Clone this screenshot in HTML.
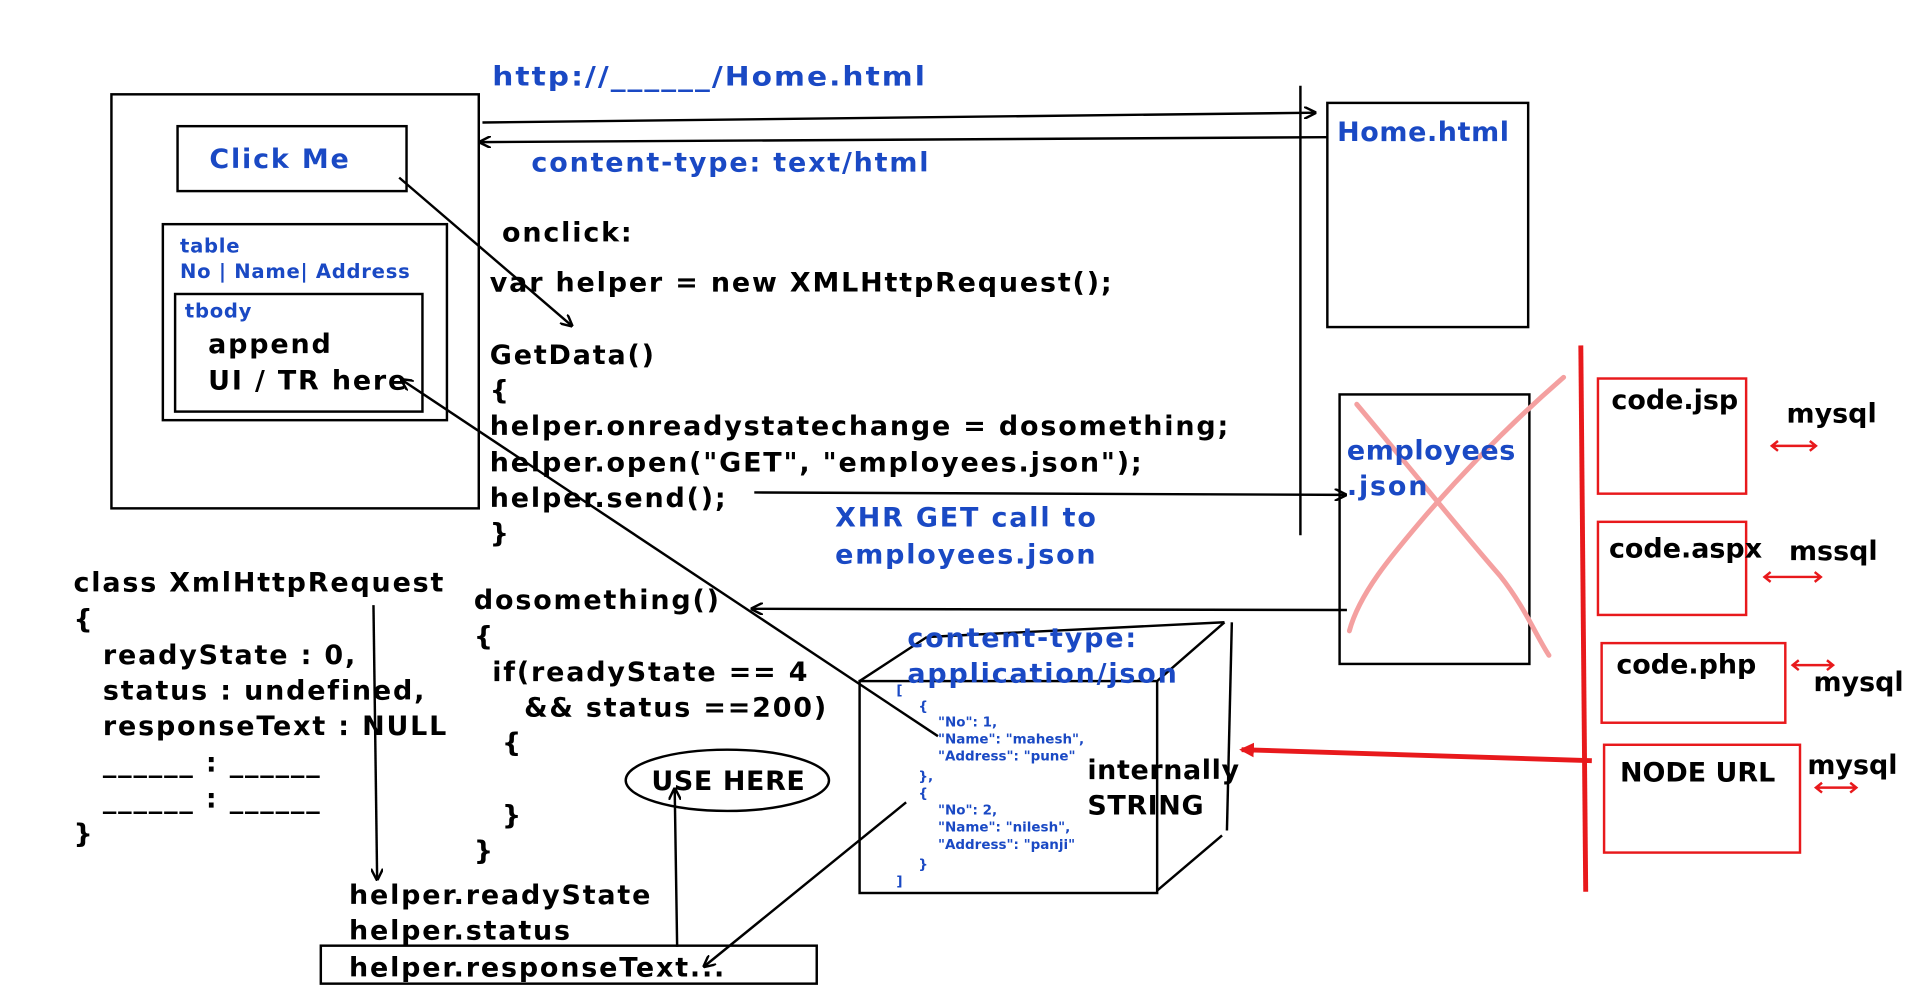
<!DOCTYPE html>
<html><head><meta charset="utf-8"><style>
html,body{margin:0;padding:0;background:#fff;width:1920px;height:991px;overflow:hidden}
svg{display:block}
text{font-family:"DejaVu Sans","Liberation Sans",sans-serif;font-weight:bold}
.b{fill:#1a49c4}
.k{fill:#000}
</style></head><body>
<svg width="1920" height="991" viewBox="0 0 1568 809" preserveAspectRatio="none" xmlns="http://www.w3.org/2000/svg">
<defs>
<marker id="a" markerWidth="10" markerHeight="10" refX="9" refY="5" orient="auto" markerUnits="userSpaceOnUse"><path d="M0,0 L10,5 L0,10" fill="none" stroke="#000" stroke-width="2"/></marker>
<marker id="r" markerWidth="12" markerHeight="12" refX="10" refY="6" orient="auto" markerUnits="userSpaceOnUse"><path d="M0,0 L12,6 L0,12 Z" fill="#e8191c"/></marker>
</defs>
<g fill="none" stroke="#000" stroke-width="2">
<rect x="91" y="77" width="300" height="338"/>
<rect x="145" y="103" width="187" height="53"/>
<rect x="133" y="183" width="232" height="160"/>
<rect x="143" y="240" width="202" height="96"/>
<rect x="1084" y="84" width="164" height="183"/>
<rect x="1094" y="322" width="155" height="220"/>
<line x1="1062" y1="70" x2="1062" y2="437"/>
<line x1="394" y1="100" x2="1074" y2="92" marker-end="url(#a)"/>
<line x1="1084" y1="112" x2="392" y2="116" marker-end="url(#a)"/>
<line x1="326" y1="145" x2="467" y2="266" marker-end="url(#a)"/>
<line x1="616" y1="402" x2="1099" y2="404" marker-end="url(#a)"/>
<line x1="1100" y1="498" x2="614" y2="497" marker-end="url(#a)"/>
<line x1="766" y1="601" x2="328" y2="310" marker-end="url(#a)"/>
<line x1="305" y1="494" x2="308" y2="718" marker-end="url(#a)"/>
<line x1="740" y1="655" x2="575" y2="789" marker-end="url(#a)"/>
<line x1="553" y1="773" x2="551" y2="644" marker-end="url(#a)"/>
<rect x="262" y="772" width="405" height="31"/>
<ellipse cx="594" cy="637" rx="83" ry="25"/>
<rect x="702" y="556" width="243" height="173"/>
<line x1="702" y1="556" x2="757" y2="520"/>
<line x1="945" y1="556" x2="1000" y2="508"/>
<line x1="757" y1="520" x2="1000" y2="508"/>
<line x1="1006" y1="508" x2="1002" y2="678"/>
<line x1="945" y1="727" x2="998" y2="682"/>
</g>
<path d="M1108 330 C1150 380 1190 430 1225 470 C1245 495 1255 520 1265 535 M1277 308 C1240 340 1200 380 1165 420 C1135 455 1110 485 1102 515" fill="none" stroke="#f4a0a0" stroke-width="4" stroke-linecap="round"/>
<g fill="none" stroke="#e8191c" stroke-width="2">
<rect x="1305" y="309" width="121" height="94"/>
<rect x="1305" y="426" width="121" height="76"/>
<rect x="1308" y="525" width="150" height="65"/>
<rect x="1310" y="608" width="160" height="88"/>
</g>
<path d="M1291 282 L1295 728" stroke="#e8191c" stroke-width="4" fill="none"/>
<line x1="1300" y1="621" x2="1014" y2="612" stroke="#e8191c" stroke-width="4" marker-end="url(#r)"/>
<g stroke="#e8191c" stroke-width="2" fill="none">
<path d="M1447 364 H1483 M1452 360 L1447 364 L1452 368 M1478 360 L1483 364 L1478 368"/>
<path d="M1441 471 H1487 M1446 467 L1441 471 L1446 475 M1482 467 L1487 471 L1482 475"/>
<path d="M1464 543 H1497 M1469 539 L1464 543 L1469 547 M1492 539 L1497 543 L1492 547"/>
<path d="M1483 643 H1516 M1488 639 L1483 643 L1488 647 M1511 639 L1516 643 L1511 647"/>
</g>
<g font-size="22" letter-spacing="1.5">
<text x="402" y="70" class="b" textLength="355" lengthAdjust="spacingAndGlyphs">http://______/Home.html</text>
<text x="434" y="140" class="b">content-type: text/html</text>
<text x="171" y="137" class="b">Click Me</text>
<text x="1092" y="115" class="b" letter-spacing="0.5">Home.html</text>
<text x="1100" y="375" class="b" letter-spacing="0.5">employees</text>
<text x="1100" y="404" class="b">.json</text>
<text x="682" y="430" class="b">XHR GET call to</text>
<text x="682" y="460" class="b">employees.json</text>
<text x="741" y="528" class="b">content-type:</text>
<text x="741" y="557" class="b">application/json</text>
<text x="410" y="197">onclick:</text>
<text x="400" y="238">var helper = new XMLHttpRequest();</text>
<text x="400" y="297">GetData()</text>
<text x="400" y="326">{</text>
<text x="400" y="355">helper.onreadystatechange = dosomething;</text>
<text x="400" y="385">helper.open("GET", "employees.json");</text>
<text x="400" y="414">helper.send();</text>
<text x="400" y="443">}</text>
<text x="387" y="497">dosomething()</text>
<text x="387" y="527">{</text>
<text x="402" y="556">if(readyState == 4</text>
<text x="428" y="585">&amp;&amp; status ==200)</text>
<text x="410" y="614">{</text>
<text x="410" y="673">}</text>
<text x="387" y="702">}</text>
<text x="532" y="645" letter-spacing="0.5">USE HERE</text>
<text x="60" y="483">class XmlHttpRequest</text>
<text x="60" y="513">{</text>
<text x="84" y="542">readyState : 0,</text>
<text x="84" y="571">status : undefined,</text>
<text x="84" y="600">responseText : NULL</text>
<text x="84" y="630">______ : ______</text>
<text x="84" y="659">______ : ______</text>
<text x="60" y="688">}</text>
<text x="285" y="738">helper.readyState</text>
<text x="285" y="767">helper.status</text>
<text x="285" y="797">helper.responseText...</text>
<text x="170" y="288">append</text>
<text x="170" y="318">UI / TR here</text>
<text x="888" y="636" letter-spacing="0.5">internally</text>
<text x="888" y="665" letter-spacing="0.5">STRING</text>
<text x="1316" y="334" letter-spacing="0">code.jsp</text>
<text x="1459" y="345" letter-spacing="0">mysql</text>
<text x="1314" y="455" letter-spacing="0">code.aspx</text>
<text x="1461" y="457" letter-spacing="0">mssql</text>
<text x="1320" y="550" letter-spacing="0">code.php</text>
<text x="1481" y="564" letter-spacing="0">mysql</text>
<text x="1323" y="638" letter-spacing="0">NODE URL</text>
<text x="1476" y="632" letter-spacing="0">mysql</text>
</g>
<g font-size="16" class="b" letter-spacing="0.6">
<text x="147" y="206">table</text>
<text x="147" y="227">No | Name| Address</text>
<text x="151" y="259">tbody</text>
</g>
<g font-size="11" class="b" font-weight="bold">
<text x="732" y="567">[</text>
<text x="750" y="580">{</text>
<text x="766" y="593">"No": 1,</text>
<text x="766" y="607">"Name": "mahesh",</text>
<text x="766" y="621">"Address": "pune"</text>
<text x="750" y="637">},</text>
<text x="750" y="651">{</text>
<text x="766" y="665">"No": 2,</text>
<text x="766" y="679">"Name": "nilesh",</text>
<text x="766" y="693">"Address": "panji"</text>
<text x="750" y="709">}</text>
<text x="732" y="723">]</text>
</g>
</svg>
</body></html>
